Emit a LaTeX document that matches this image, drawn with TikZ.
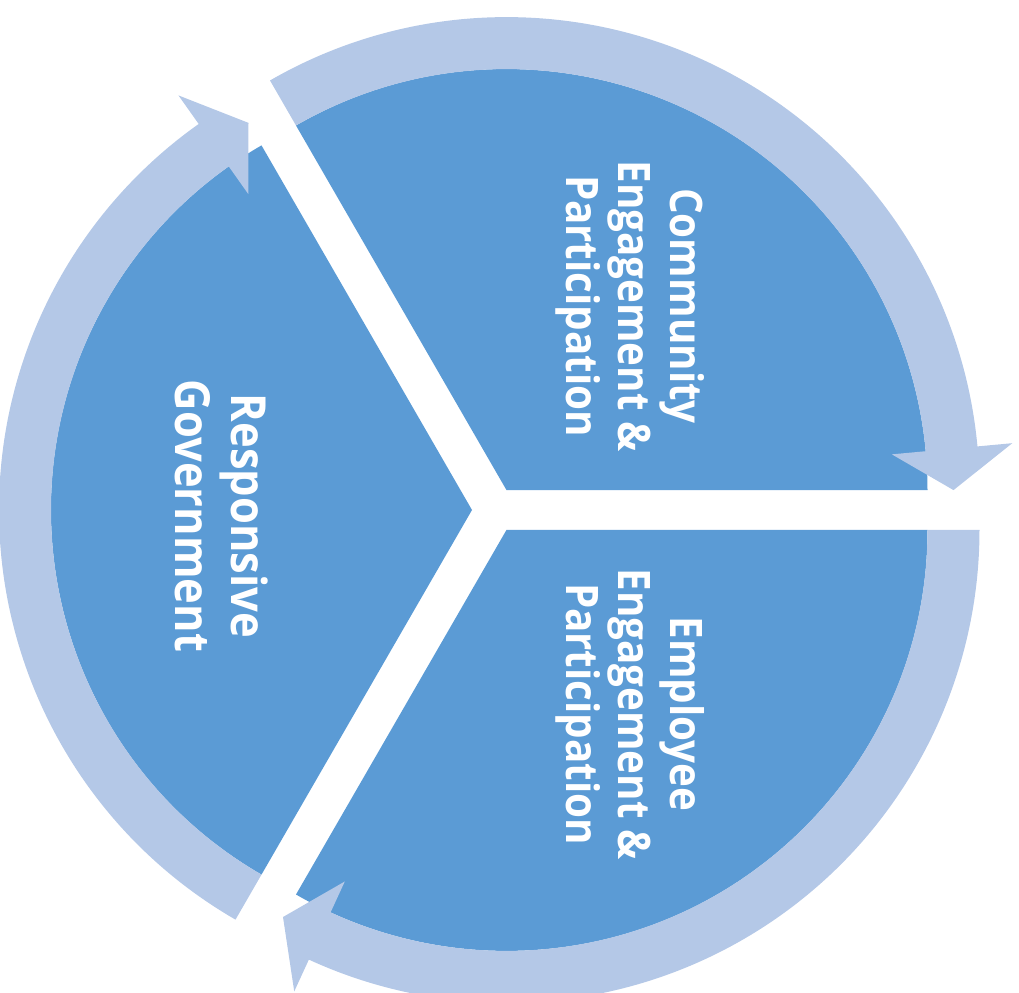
\documentclass[tikz,border=0pt]{standalone}
\usepackage{fontspec}
\newfontfamily\labelfont[FakeStretch=0.9]{Open Sans}
\usepackage{tikz}
\usetikzlibrary{positioning}
\definecolor{piecol}{RGB}{91,155,213}
\definecolor{ringcol}{RGB}{180,200,231}
\tikzset{
    pie/.style={fill=piecol, draw=none},
    ring/.style={fill=ringcol, draw=none},
    label/.style={text=white, font=\labelfont\bfseries\fontsize{25.5}{29.5}\selectfont, align=center, rotate=-90, inner sep=0pt},
    biglabel/.style={label, font=\labelfont\bfseries\fontsize{27.5}{32}\selectfont},
}

\begin{document}
\begin{tikzpicture}[x=0.02cm, y=0.02cm]
\useasboundingbox (0,0) rectangle (1019,992);
% apex of each wedge
\coordinate (A) at (506.5,501.9);
\coordinate (B) at (506.5,462.1);
\coordinate (C) at (472,482);
\foreach \name/\s in {A/120, B/0, C/240}{
    \fill[pie] (\name) -- ++(\s:421) arc[start angle=\s, end angle=\s-120, radius=421] -- cycle;
    \begin{scope}[shift={(\name)}]
    \fill[ring] (\s:473) arc[start angle=\s, end angle=\s-114.7, radius=473]
        -- (\s-114.7:508) -- (\s-120:447) -- (\s-114.7:387) -- (\s-114.7:421)
        arc[start angle=\s-114.7, end angle=\s, radius=421] -- cycle;
    \end{scope}
}
\node[label] (community) at (630,686) {Community\\Engagement \&\\Participation};
\node[label] (employee) at (630,278) {Employee\\Engagement \&\\Participation};
\node[biglabel] (responsive) at (222,476) {Responsive\\Government};
\end{tikzpicture}
\end{document}
